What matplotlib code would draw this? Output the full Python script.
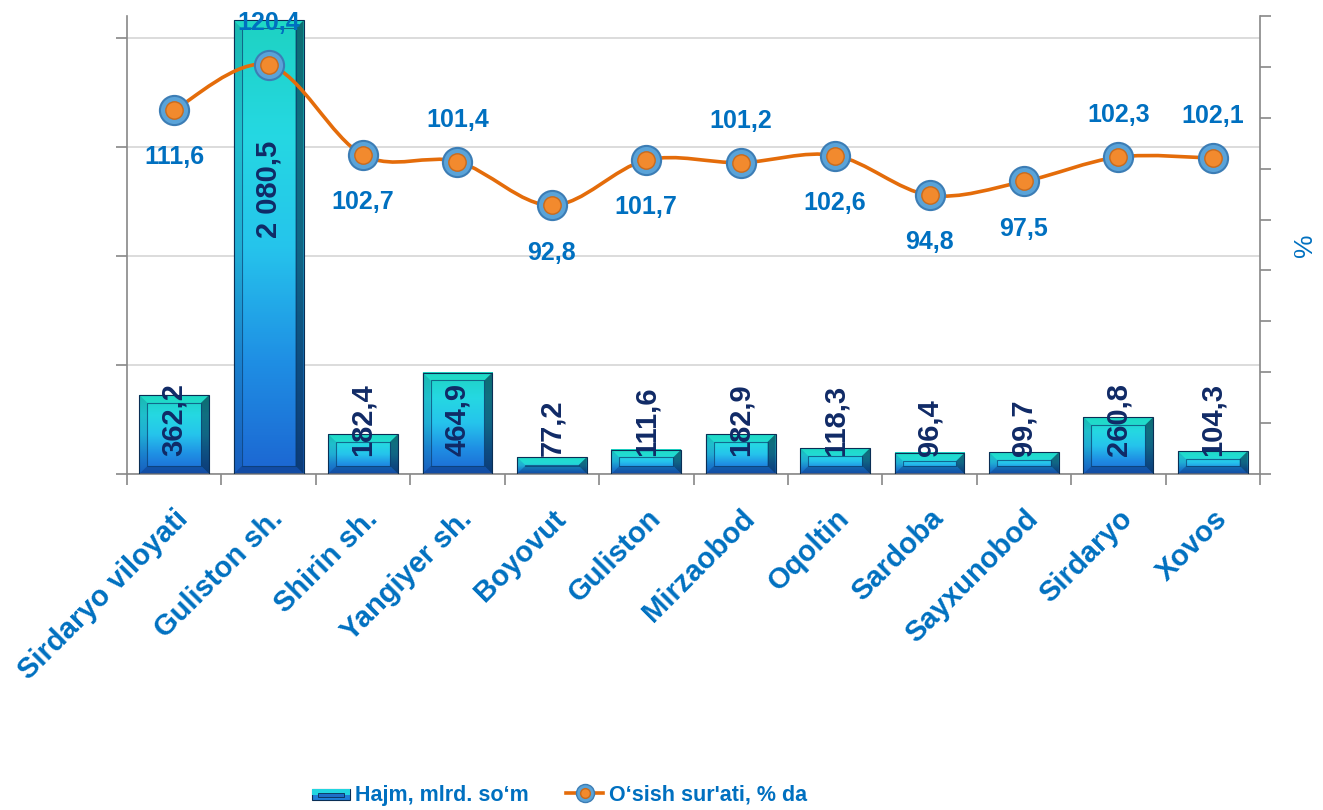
import numpy as np
import matplotlib
matplotlib.use("Agg")
import matplotlib.pyplot as plt
from matplotlib.colors import LinearSegmentedColormap
from matplotlib.patches import Polygon, Rectangle
from matplotlib.path import Path
from matplotlib.patches import PathPatch
from matplotlib.lines import Line2D
from matplotlib.legend_handler import HandlerTuple, HandlerBase

plt.rcParams['font.family'] = ['Liberation Sans', 'DejaVu Sans']

# data
categories = ['Sirdaryo viloyati', 'Guliston sh.', 'Shirin sh.', 'Yangiyer sh.',
              'Boyovut', 'Guliston', 'Mirzaobod', 'Oqoltin', 'Sardoba',
              'Sayxunobod', 'Sirdaryo', 'Xovos']
hajm = [362.2, 2080.5, 182.4, 464.9, 77.2, 111.6, 182.9, 118.3, 96.4, 99.7, 260.8, 104.3]
osish = [111.6, 120.4, 102.7, 101.4, 92.8, 101.7, 101.2, 102.6, 94.8, 97.5, 102.3, 102.1]
# where the growth label sits: 1 above the point, -1 below
label_side = [-1, 1, -1, 1, -1, -1, 1, -1, -1, -1, 1, 1]

BLUE = '#0070C0'
NAVY = '#102A66'
ORANGE = '#E46C0A'


def fmt(v):
    return f"{v:,.1f}".replace(',', ' ').replace('.', ',')


bar_cmap = LinearSegmentedColormap.from_list(
    'bar', ['#1C66D2', '#1F8FE4', '#26C4EC', '#25D8E2', '#1ED2C2'])
grad = np.linspace(0, 1, 256).reshape(-1, 1)


def draw_bar(ax, xc, h, w, bx, by):
    x0, x1 = xc - w / 2, xc + w / 2
    ax.imshow(grad, extent=[x0, x1, 0, h], cmap=bar_cmap, aspect='auto',
              origin='lower', interpolation='bicubic', zorder=2)
    by = min(by, h / 2)
    ax.add_patch(Polygon([(x0, h), (x1, h), (x1 - bx, h - by), (x0 + bx, h - by)],
                         fc='#20E0C8', alpha=0.55, lw=0, zorder=3))
    ax.add_patch(Polygon([(x0, 0), (x1, 0), (x1 - bx, by), (x0 + bx, by)],
                         fc='#001A50', alpha=0.35, lw=0, zorder=3))
    ax.add_patch(Polygon([(x0, 0), (x0, h), (x0 + bx, h - by), (x0 + bx, by)],
                         fc='#003050', alpha=0.15, lw=0, zorder=3))
    ax.add_patch(Polygon([(x1, 0), (x1, h), (x1 - bx, h - by), (x1 - bx, by)],
                         fc='#001830', alpha=0.55, lw=0, zorder=3))
    ax.add_patch(Rectangle((x0 + bx, by), w - 2 * bx, h - 2 * by, fill=False,
                           ec='#0B3C6E', lw=0.8, alpha=0.7, zorder=3))
    ax.add_patch(Rectangle((x0, 0), w, h, fill=False, ec='#0A2E55', lw=0.8, zorder=3))


class BarHandler(HandlerBase):
    def create_artists(self, legend, orig_handle, xdescent, ydescent, width,
                       height, fontsize, trans):
        y0 = -ydescent + height * 0.05
        hh = height * 0.75
        r1 = Rectangle((-xdescent, y0), width, hh, fc='#1F7FD8', ec='#0A2E55',
                       lw=0.8, transform=trans)
        r2 = Rectangle((-xdescent, y0 + hh * 0.45), width, hh * 0.55, fc='#22D6E0',
                       lw=0, transform=trans)
        r3 = Rectangle((-xdescent + width * 0.15, y0 + hh * 0.3), width * 0.7, hh * 0.3,
                       fc='#1E6FC8', ec='#0A2E55', lw=0.6, transform=trans)
        return [r1, r2, r3]


fig = plt.figure(figsize=(13.23, 8.1), dpi=100)
ax = fig.add_axes([0.096, 0.415, 0.8564, 0.565])
ax2 = ax.twinx()

x = np.arange(len(categories))
ax.set_xlim(-0.5, len(categories) - 0.5)
ax.set_ylim(0, 2100)
ax2.set_ylim(40, 130)

for i, v in enumerate(hajm):
    draw_bar(ax, x[i], v, 0.74, 0.085, 36)
    ly = 80 if v < 1000 else v * 0.52
    ax.text(x[i], ly, fmt(v), rotation=90, ha='center', va='bottom',
            fontsize=21, fontweight='bold', color=NAVY, zorder=5)

ax.set_yticks([0, 500, 1000, 1500, 2000])
ax.set_yticklabels([])
ax.grid(axis='y', color='#D9D9D9', lw=1.3, zorder=0)
ax.set_axisbelow(True)
ax.tick_params(axis='y', length=8, color='#888888', width=1.2)
ax.set_xticks(x)
ax.set_xticklabels(categories, rotation=45, ha='right', va='top',
                   rotation_mode='anchor', fontsize=21, fontweight='bold', color=BLUE)
ax.tick_params(axis='x', length=0, pad=22)
ax.set_xticks(np.arange(-0.5, len(categories), 1), minor=True)
ax.tick_params(axis='x', which='minor', length=8, color='#888888', width=1.2)
for s in ['top']:
    ax.spines[s].set_visible(False)
    ax2.spines[s].set_visible(False)
for s in ['left', 'bottom']:
    ax.spines[s].set_color('#888888')
    ax.spines[s].set_linewidth(1.2)
ax2.spines['right'].set_color('#888888')
ax2.spines['right'].set_linewidth(1.2)
ax2.spines['left'].set_visible(False)
ax2.spines['bottom'].set_visible(False)
ax.spines['right'].set_visible(False)

# smooth line through the growth values (Catmull-Rom as cubic Bezier)
pts = np.column_stack([x, osish]).astype(float)
ext = np.vstack([pts[0], pts, pts[-1]])
verts = [tuple(pts[0])]
codes = [Path.MOVETO]
for i in range(len(pts) - 1):
    p0, p1, p2, p3 = ext[i], ext[i + 1], ext[i + 2], ext[i + 3]
    c1 = p1 + (p2 - p0) / 6
    c2 = p2 - (p3 - p1) / 6
    verts += [tuple(c1), tuple(c2), tuple(p2)]
    codes += [Path.CURVE4] * 3
ax2.add_patch(PathPatch(Path(verts, codes), fill=False, ec=ORANGE, lw=2.6, zorder=3))
ax2.plot(x, osish, ls='none', marker='o', ms=21, mfc='#5AA3D8', mec='#3C7DB5',
         mew=1.5, zorder=4)
ax2.plot(x, osish, ls='none', marker='o', ms=12.5, mfc='#F28A2E', mec='#C96A1C',
         mew=1, zorder=5)
for i, v in enumerate(osish):
    off = 30 if label_side[i] > 0 else -34
    ax2.annotate(fmt(v), (x[i], v), xytext=(0, off),
                 textcoords='offset points', ha='center', va='center',
                 fontsize=18, fontweight='bold', color=BLUE, zorder=6)

ax2.set_yticks(np.arange(40, 131, 10))
ax2.set_yticklabels([])
ax2.tick_params(axis='y', length=8, color='#888888', width=1.2)
ax2.set_ylabel('%', color=BLUE, fontsize=19, labelpad=12)

h_bar = Rectangle((0, 0), 1, 1)
h_line = (Line2D([], [], color=ORANGE, lw=2.6, marker='o', ms=13, mfc='#5AA3D8',
                 mec='#3C7DB5'),
          Line2D([], [], color=ORANGE, lw=0, marker='o', ms=7, mfc='#F28A2E',
                 mec='#C96A1C'))
fig.legend([h_bar, h_line], ['Hajm, mlrd. so\u2018m', 'O\u2018sish sur\'ati, % da'],
           handler_map={Rectangle: BarHandler(), tuple: HandlerTuple(ndivide=1)},
           loc='center', bbox_to_anchor=(0.423, 0.018), ncol=2, frameon=False,
           prop={'weight': 'bold', 'size': 15.5},
           labelcolor=BLUE, handlelength=1.75, handletextpad=0.25, columnspacing=1.7)

fig.savefig('out.png', dpi=100)
